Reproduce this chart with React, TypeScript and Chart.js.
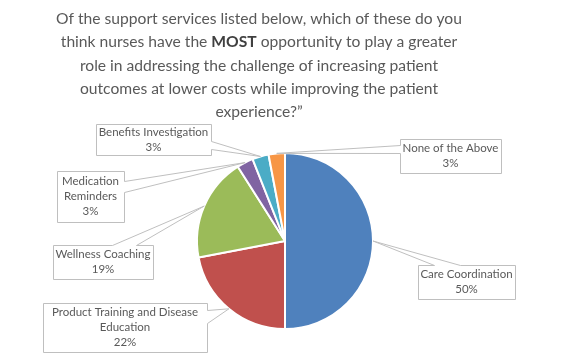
import React, { useEffect, useRef } from "react";
import { Chart, registerables } from "chart.js";

Chart.register(...registerables);

const categories = [
  "Care Coordination",
  "Product Training and Disease Education",
  "Wellness Coaching",
  "Medication Reminders",
  "Benefits Investigation",
  "None of the Above",
];
const values = [50, 22, 19, 3, 3, 3];
const valueLabels = ["50%", "22%", "19%", "3%", "3%", "3%"];
const labelLines = [
  ["Care Coordination"],
  ["Product Training and Disease", "Education"],
  ["Wellness Coaching"],
  ["Medication", "Reminders"],
  ["Benefits Investigation"],
  ["None of the Above"],
];
const colors = ["#4F81BD", "#C0504D", "#9BBB59", "#8064A2", "#4BACC6", "#F79646"];

const titleLines: { text: string; bold?: boolean }[][] = [
  [{ text: "Of the support services listed below, which of these do you" }],
  [
    { text: "think nurses have the " },
    { text: "MOST", bold: true },
    { text: " opportunity to play a greater" },
  ],
  [{ text: "role in addressing the challenge of increasing patient" }],
  [{ text: "outcomes at lower costs while improving the patient" }],
  [{ text: "experience?\u201D" }],
];

// callout box layout (top-left x, y, width, height, side of pointer, pointer base range)
const callouts = [
  { x: 418, y: 265, w: 97, h: 34, side: "top", a: 434, b: 460 },
  { x: 43, y: 303, w: 164, h: 49, side: "right", a: 310, b: 323 },
  { x: 53, y: 245, w: 100, h: 34, side: "top", a: 112, b: 136 },
  { x: 57, y: 171, w: 67, h: 51, side: "right", a: 181, b: 192 },
  { x: 96, y: 124, w: 115, h: 31, side: "right", a: 141, b: 149 },
  { x: 400, y: 139, w: 101, h: 34, side: "left", a: 145, b: 153 },
];

const FONT = "Lato, 'Open Sans', sans-serif";
const TEXT_COLOR = "#595959";

const titlePlugin = {
  id: "mixedTitle",
  afterDraw(chart: any) {
    const ctx = chart.ctx as CanvasRenderingContext2D;
    ctx.save();
    // fit first line to target width
    ctx.font = `100px ${FONT}`;
    const w1 = ctx.measureText(titleLines[0][0].text).width;
    const size = (100 * 406) / w1;
    const cx = 259;
    const y0 = 19;
    const lh = 23.3;
    ctx.fillStyle = TEXT_COLOR;
    ctx.textBaseline = "middle";
    ctx.textAlign = "left";
    titleLines.forEach((parts, i) => {
      let total = 0;
      const widths = parts.map((p) => {
        ctx.font = `${p.bold ? "bold " : ""}${size}px ${FONT}`;
        const w = ctx.measureText(p.text).width;
        total += w;
        return w;
      });
      let x = cx - total / 2;
      parts.forEach((p, j) => {
        ctx.font = `${p.bold ? "bold " : ""}${size}px ${FONT}`;
        ctx.fillStyle = p.bold ? "#404040" : TEXT_COLOR;
        ctx.fillText(p.text, x, y0 + i * lh);
        x += widths[j];
      });
    });
    ctx.restore();
  },
};

const calloutPlugin = {
  id: "callouts",
  afterDatasetsDraw(chart: any) {
    const ctx = chart.ctx as CanvasRenderingContext2D;
    const meta = chart.getDatasetMeta(0);
    ctx.save();
    meta.data.forEach((arc: any, i: number) => {
      const c = callouts[i];
      if (!c) return;
      const { x, y, startAngle, endAngle, outerRadius } = arc.getProps(
        ["x", "y", "startAngle", "endAngle", "outerRadius"],
        true
      );
      const mid = (startAngle + endAngle) / 2;
      const tx = x + Math.cos(mid) * outerRadius;
      const ty = y + Math.sin(mid) * outerRadius;
      const L = c.x + 0.5, T = c.y + 0.5, R = c.x + c.w + 0.5, B = c.y + c.h + 0.5;
      ctx.beginPath();
      ctx.moveTo(L, T);
      if (c.side === "top") {
        ctx.lineTo(c.a + 0.5, T);
        ctx.lineTo(tx, ty);
        ctx.lineTo(c.b + 0.5, T);
      }
      ctx.lineTo(R, T);
      if (c.side === "right") {
        ctx.lineTo(R, c.a + 0.5);
        ctx.lineTo(tx, ty);
        ctx.lineTo(R, c.b + 0.5);
      }
      ctx.lineTo(R, B);
      ctx.lineTo(L, B);
      if (c.side === "left") {
        ctx.lineTo(L, c.b + 0.5);
        ctx.lineTo(tx, ty);
        ctx.lineTo(L, c.a + 0.5);
      }
      ctx.closePath();
      ctx.fillStyle = "#FFFFFF";
      ctx.fill();
      ctx.strokeStyle = "#BFBFBF";
      ctx.lineWidth = 1;
      ctx.stroke();

      const lines = [...labelLines[i], valueLabels[i]];
      const lh = 15;
      const cy = c.y + c.h / 2;
      const startY = cy - ((lines.length - 1) * lh) / 2;
      ctx.font = `11.5px ${FONT}`;
      ctx.fillStyle = TEXT_COLOR;
      ctx.textAlign = "center";
      ctx.textBaseline = "middle";
      lines.forEach((t, k) => {
        ctx.fillText(t, c.x + c.w / 2, startY + k * lh);
      });
    });
    ctx.restore();
  },
};

export default function App() {
  const ref = useRef<HTMLCanvasElement>(null);
  useEffect(() => {
    document.body.style.margin = "0";
    if (!ref.current) return;
    const chart = new Chart(ref.current, {
      type: "pie",
      data: {
        labels: categories,
        datasets: [
          {
            data: values,
            backgroundColor: colors,
            borderColor: "#FFFFFF",
            borderWidth: 2,
          },
        ],
      },
      options: {
        responsive: false,
        animation: false,
        layout: { padding: { top: 152, bottom: 28, left: 100, right: 102 } },
        plugins: {
          legend: { display: false },
          tooltip: { enabled: false },
          title: { display: false },
        },
      },
      plugins: [titlePlugin, calloutPlugin],
    });
    return () => chart.destroy();
  }, []);
  return (
    <div style={{ width: 572, height: 358, background: "#fff" }}>
      <canvas ref={ref} width={572} height={358} style={{ display: "block" }} />
    </div>
  );
}
